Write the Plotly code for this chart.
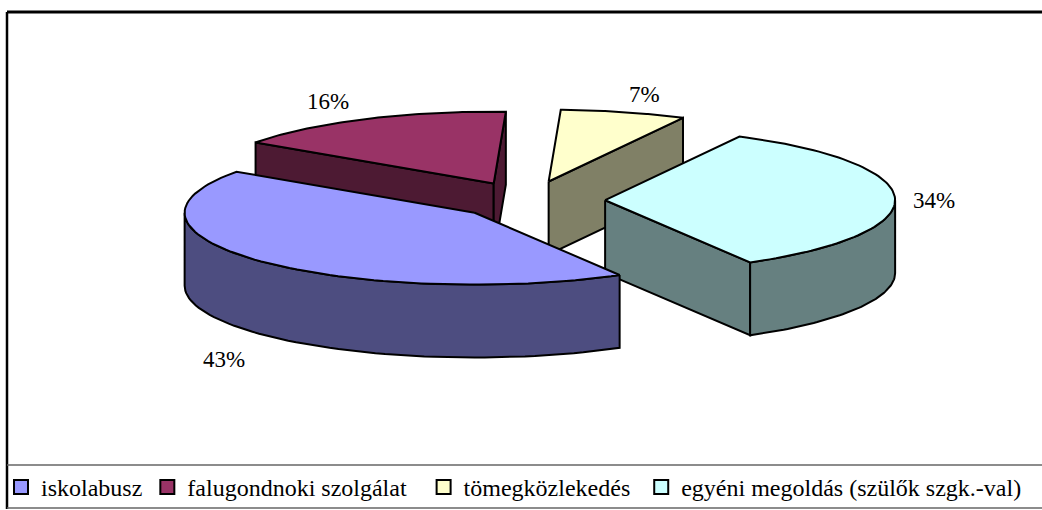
import math
import plotly.graph_objects as go

# Data
categories = ["iskolabusz", "falugondnoki szolgálat", "tömegközlekedés", "egyéni megoldás (szülők szgk.-val)"]
values = [43, 16, 7, 34]

# Style
top_colors = ["#9999FF", "#993366", "#FFFFCC", "#CCFFFF"]
wall_colors = ["#4D4D80", "#4D1A33", "#808066", "#668080"]
legend_padding = [0, 2, 1, 0]
explode = [0.25, 0.266, 0.275, 0.266]
FONT = "Liberation Serif"
FS = 23
LEGEND_FS = 24

# Pie projection
CX, CY, RX, RY, DEPTH, START = 528, 201, 290, 72, 73, 60
draw_order = [1, 2, 3, 0]
label_pos = {0: (224, 360), 1: (328, 102), 2: (644, 95), 3: (934, 201)}

total = sum(values)
angles = [START]
for v in values:
    angles.append(angles[-1] + 360 * v / total)


def pt(a, t, dy=0):
    r = math.radians(t)
    return a[0] + RX * math.cos(r), a[1] + RY * math.sin(r) + dy


def poly(fig, xs, ys, color):
    fig.add_trace(go.Scatter(x=xs + xs[:1], y=ys + ys[:1], mode="lines", fill="toself",
                             fillcolor=color, line=dict(color="black", width=2),
                             hoverinfo="skip", showlegend=False))


fig = go.Figure()
for i in draw_order:
    t0, t1 = angles[i], angles[i + 1]
    mid = math.radians((t0 + t1) / 2)
    apex = (CX + explode[i] * RX * math.cos(mid), CY + explode[i] * RY * math.sin(mid))
    # Cut faces that look toward the viewer
    for t, visible in ((t0, math.cos(math.radians(t0)) < 0), (t1, math.cos(math.radians(t1)) > 0)):
        if visible:
            e = pt(apex, t)
            poly(fig, [apex[0], e[0], e[0], apex[0]], [apex[1], e[1], e[1] + DEPTH, apex[1] + DEPTH], wall_colors[i])
    # Outer rim, front half only
    for k in (0, 1):
        lo, hi = max(t0, 360 * k), min(t1, 360 * k + 180)
        if lo < hi:
            ts = [lo + (hi - lo) * j / 60 for j in range(61)]
            up = [pt(apex, t) for t in ts]
            dn = [pt(apex, t, DEPTH) for t in reversed(ts)]
            poly(fig, [p[0] for p in up + dn], [p[1] for p in up + dn], wall_colors[i])
    # Top face
    ts = [t0 + (t1 - t0) * j / 80 for j in range(81)]
    arc = [pt(apex, t) for t in ts]
    poly(fig, [apex[0]] + [p[0] for p in arc], [apex[1]] + [p[1] for p in arc], top_colors[i])

# Legend entries
for name, col, pad in zip(categories, top_colors, legend_padding):
    fig.add_trace(go.Scatter(x=[None], y=[None], mode="markers", name=name + "\u00a0" * pad,
                             marker=dict(symbol="square", size=14, color=col, line=dict(color="black", width=2))))

annotations = [dict(x=label_pos[i][0], y=label_pos[i][1], text=f"{values[i]}%", showarrow=False,
                    font=dict(family=FONT, size=FS, color="black"), xref="x", yref="y")
               for i in range(len(values))]

frame = [
    dict(type="line", xref="paper", yref="paper", x0=7 / 1042, x1=1, y0=1 - 12 / 510, y1=1 - 12 / 510, line=dict(color="black", width=3)),
    dict(type="line", xref="paper", yref="paper", x0=7 / 1042, x1=7 / 1042, y0=0, y1=1 - 12 / 510, line=dict(color="black", width=2.5)),
    dict(type="line", xref="paper", yref="paper", x0=7 / 1042, x1=1, y0=1 - 466 / 510, y1=1 - 466 / 510, line=dict(color="#666666", width=1.5)),
    dict(type="line", xref="paper", yref="paper", x0=7 / 1042, x1=1, y0=1 - 509 / 510, y1=1 - 509 / 510, line=dict(color="#666666", width=1.5)),
]

fig.update_layout(
    width=1042, height=510, margin=dict(l=0, r=0, t=0, b=0),
    paper_bgcolor="white", plot_bgcolor="white", showlegend=True,
    xaxis=dict(range=[0, 1042], visible=False, fixedrange=True),
    yaxis=dict(range=[510, 0], visible=False, fixedrange=True),
    legend=dict(orientation="h", x=1 / 1042, xanchor="left", y=1 - 466 / 510, yanchor="top",
                bgcolor="rgba(0,0,0,0)", font=dict(family=FONT, size=LEGEND_FS, color="black"),
                traceorder="normal", itemwidth=30),
    annotations=annotations, shapes=frame,
)
fig.write_html("out.html", config={"displayModeBar": False},
               post_script="document.body.style.margin='0';document.body.style.overflow='hidden';")
